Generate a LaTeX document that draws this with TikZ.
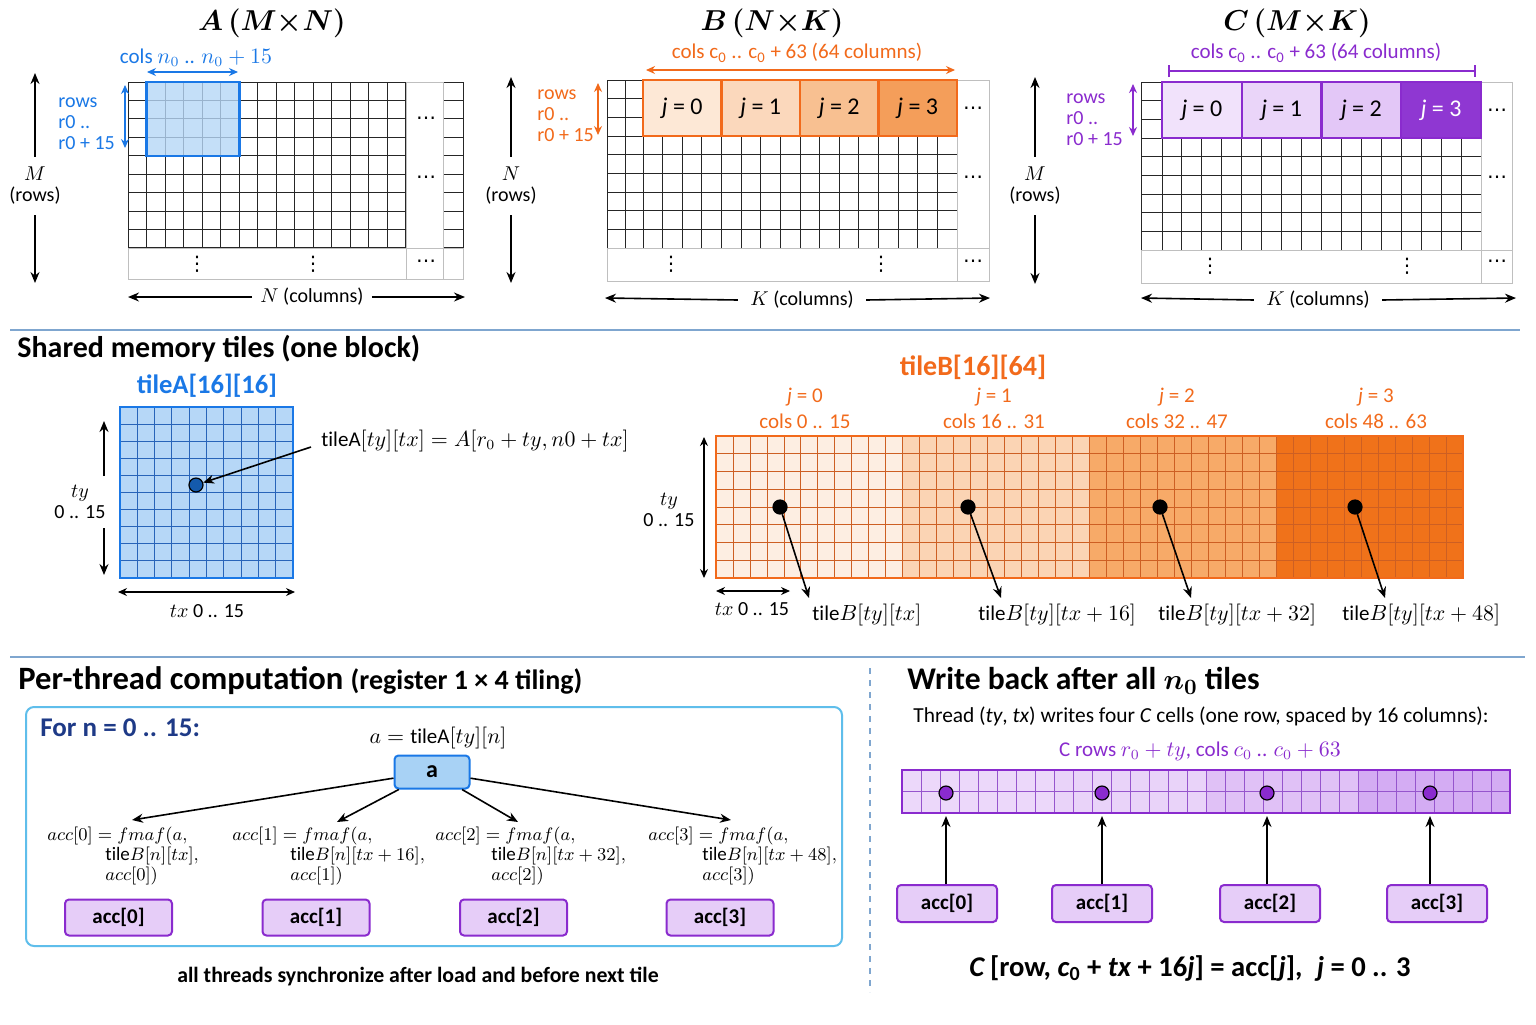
\documentclass[tikz,border=0pt]{standalone}
\usepackage{amsmath}
\usepackage{bm}
\usepackage{fontspec}
\setmainfont{Carlito}
\newfontfamily\symfont{DejaVu Sans}
\usetikzlibrary{arrows.meta,positioning}
\definecolor{ablue}{RGB}{26,120,230}
\definecolor{agrid}{RGB}{40,100,185}
\definecolor{tileAfill}{RGB}{182,215,247}
\definecolor{afill}{RGB}{168,210,245}
\definecolor{bor}{RGB}{242,106,27}
\definecolor{bgrid}{RGB}{205,95,35}
\definecolor{bfill0}{RGB}{253,232,214}
\definecolor{bfill1}{RGB}{251,216,188}
\definecolor{bfill2}{RGB}{248,192,145}
\definecolor{bfill3}{RGB}{244,158,90}
\definecolor{bsec0}{RGB}{253,238,226}
\definecolor{bsec1}{RGB}{251,212,180}
\definecolor{bsec2}{RGB}{247,170,104}
\definecolor{bsec3}{RGB}{240,114,26}
\definecolor{cpur}{RGB}{138,43,206}
\definecolor{cgrid}{RGB}{150,85,205}
\definecolor{cfill0}{RGB}{241,226,251}
\definecolor{cfill1}{RGB}{234,213,249}
\definecolor{cfill2}{RGB}{227,199,247}
\definecolor{cfill3}{RGB}{143,55,210}
\definecolor{wsec0}{RGB}{236,216,250}
\definecolor{wsec1}{RGB}{233,211,249}
\definecolor{wsec2}{RGB}{224,193,246}
\definecolor{wsec3}{RGB}{212,172,243}
\definecolor{accfill}{RGB}{230,205,248}
\definecolor{sepline}{RGB}{127,166,207}
\definecolor{boxblue}{RGB}{95,190,235}
\definecolor{navy}{RGB}{30,58,135}
\newcommand{\hdotz}{{\symfont ⋯}}
\newcommand{\vdotz}{{\symfont ⋮}}

\begin{document}
\begin{tikzpicture}[x=0.5pt,y=-0.5pt,
    every node/.style={inner sep=0pt},
    ttl/.style={font=\fontsize{15.5}{18}\selectfont},
    head/.style={anchor=west,font=\fontsize{15}{17}\selectfont\bfseries},
    lbl/.style={font=\fontsize{10}{10.5}\selectfont},
    clbl/.style={font=\fontsize{10.5}{12}\selectfont},
    mlbl/.style={font=\fontsize{10.5}{12}\selectfont},
    gridln/.style={line width=0.5pt,black!85},
    faint/.style={line width=0.5pt,black!25},
    dimarr/.style={{Stealth[length=4.5pt,width=4pt]}-{Stealth[length=4.5pt,width=4pt]},line width=0.6pt},
    arrow/.style={-{Stealth[length=5.5pt,width=4.5pt]},line width=0.8pt},
    btile/.style={rectangle,draw=bor,line width=1.2pt,minimum width=39.25pt,minimum height=28pt,font=\fontsize{12}{14}\selectfont},
    ctile/.style={rectangle,draw=cpur,line width=1.2pt,minimum width=39.9pt,minimum height=28pt,font=\fontsize{12}{14}\selectfont},
    accbox/.style={rectangle,rounded corners=2pt,draw=cpur,line width=1pt,fill=accfill,minimum height=18pt,font=\fontsize{10.5}{12}\selectfont\bfseries},
    dot/.style={circle,draw=black,line width=0.6pt,minimum size=7pt}]
\fill[white] (0,0) rectangle (1536,1024);
\useasboundingbox (0,0) rectangle (1536,1024);

% ---------------- matrix A ----------------
\node[ttl] (tA) at (272,23) {$\bm{A\,(M{\times}N)}$};
\foreach \i in {0,...,15}
  \draw[gridln] ({128+18.53*\i},82) -- ({128+18.53*\i},248);
\foreach \k in {0,...,9}
  \draw[gridln] (128,{82+18.44*\k}) -- (406,{82+18.44*\k}) (443,{82+18.44*\k}) -- (463,{82+18.44*\k});
\draw[gridln] (443,82) -- (443,248) (463,82) -- (463,248);
\draw[faint] (406,82) rectangle (443,279) (128,248) rectangle (463,279) (443,248) -- (443,279);
\fill[tileAfill,fill opacity=0.8] (146.5,82) rectangle (239.2,155.8);
\draw[ablue,line width=1.3pt] (146.5,82) rectangle (239.2,155.8);
\node (dA1) at (426,121) {\hdotz};
\node (dA2) at (426,180) {\hdotz};
\node (dA3) at (426,264) {\hdotz};
\node (vA1) at (197,264) {\vdotz};
\node (vA2) at (313,264) {\vdotz};
\node[clbl,text=ablue] (colsA) at (196,58) {cols $n_0$ .. $n_0+15$};
\coordinate (cA1) at (147,72); \coordinate (cA2) at (238,72);
\draw[dimarr,ablue] (cA1) -- (cA2);
\node[lbl,text=ablue,align=left,anchor=west] (rowsA) at (58,124) {rows\\r0 ..\\r0 + 15};
\coordinate (rA1) at (125,85); \coordinate (rA2) at (125,148);
\draw[dimarr,ablue] (rA1) -- (rA2);
\node[lbl,align=center,inner sep=5pt] (mA) at (35,186) {$M$\\(rows)};
\coordinate (mAt) at (35,73); \coordinate (mAb) at (35,283);
\draw[arrow] (mA.north) -- (mAt);
\draw[arrow] (mA.south) -- (mAb);
\node[lbl,inner xsep=4pt] (nA) at (312,297) {$N$ (columns)};
\coordinate (nAl) at (128,297); \coordinate (nAr) at (465,297);
\draw[arrow] (nA.west) -- (nAl);
\draw[arrow] (nA.east) -- (nAr);

% ---------------- matrix B ----------------
\node[ttl] (tB) at (772,23) {$\bm{B\,(N{\times}K)}$};
\foreach \k in {0,...,9}
  \draw[gridln] (607,{80+18.67*\k}) -- (643,{80+18.67*\k});
\foreach \k in {3,...,9}
  \draw[gridln] (643,{80+18.67*\k}) -- (957,{80+18.67*\k});
\draw[gridln] (607,80) -- (607,248) (625,80) -- (625,248);
\foreach \i in {0,...,16}
  \draw[gridln] ({643+19.625*\i},136) -- ({643+19.625*\i},248);
\draw[faint] (957,80) rectangle (989,281) (607,248) rectangle (989,281) (957,248) -- (957,281);
\node[btile,fill=bfill0] (Bj0) at (682.25,108) {\textit{j} = 0};
\node[btile,fill=bfill1] (Bj1) at (760.75,108) {\textit{j} = 1};
\node[btile,fill=bfill2] (Bj2) at (839.25,108) {\textit{j} = 2};
\node[btile,fill=bfill3] (Bj3) at (917.75,108) {\textit{j} = 3};
\node (dB1) at (973,111) {\hdotz};
\node (dB2) at (973,180) {\hdotz};
\node (dB3) at (973,264) {\hdotz};
\node (vB1) at (671,264) {\vdotz};
\node (vB2) at (881,264) {\vdotz};
\node[clbl,text=bor] (colsB) at (797,53) {cols c\textsubscript{0} .. c\textsubscript{0} + 63 (64 columns)};
\coordinate (cB1) at (646,70); \coordinate (cB2) at (955,70);
\draw[dimarr,bor] (cB1) -- (cB2);
\node[lbl,text=bor,align=left,anchor=west] (rowsB) at (537,116) {rows\\r0 ..\\r0 + 15};
\coordinate (rB1) at (598,83); \coordinate (rB2) at (598,135);
\draw[dimarr,bor] (rB1) -- (rB2);
\node[lbl,align=center,inner sep=5pt] (nB) at (511,186) {$N$\\(rows)};
\coordinate (nBt) at (511,77); \coordinate (nBb) at (511,283);
\draw[arrow] (nB.north) -- (nBt);
\draw[arrow] (nB.south) -- (nBb);
\node[lbl,inner xsep=6pt] (kB) at (802,300) {$K$ (columns)};
\coordinate (kBl) at (605,298); \coordinate (kBr) at (990,298);
\draw[arrow] (kB.west) -- (kBl);
\draw[arrow] (kB.east) -- (kBr);

% ---------------- matrix C ----------------
\node[ttl] (tC) at (1297,23) {$\bm{C\,(M{\times}K)}$};
\foreach \k in {0,...,9}
  \draw[gridln] (1141,{82+18.67*\k}) -- (1162,{82+18.67*\k});
\foreach \k in {3,...,9}
  \draw[gridln] (1162,{82+18.67*\k}) -- (1481,{82+18.67*\k});
\draw[gridln] (1141,82) -- (1141,250);
\foreach \i in {0,...,16}
  \draw[gridln] ({1162+19.94*\i},138) -- ({1162+19.94*\i},250);
\draw[faint] (1481,82) rectangle (1512,283) (1141,250) rectangle (1512,283) (1481,250) -- (1481,283);
\node[ctile,fill=cfill0] (Cj0) at (1201.9,110) {\textit{j} = 0};
\node[ctile,fill=cfill1] (Cj1) at (1281.6,110) {\textit{j} = 1};
\node[ctile,fill=cfill2] (Cj2) at (1361.4,110) {\textit{j} = 2};
\node[ctile,fill=cfill3,text=white] (Cj3) at (1441.1,110) {\textit{j} = 3};
\node (dC1) at (1497,113) {\hdotz};
\node (dC2) at (1497,180) {\hdotz};
\node (dC3) at (1497,264) {\hdotz};
\node (vC1) at (1210,266) {\vdotz};
\node (vC2) at (1407,266) {\vdotz};
\node[clbl,text=cpur] (colsC) at (1316,53) {cols c\textsubscript{0} .. c\textsubscript{0} + 63 (64 columns)};
\coordinate (cC1) at (1168,71); \coordinate (cC2) at (1476,71);
\draw[{Bar[width=6pt]}-{Bar[width=6pt]},cpur,line width=1pt] (cC1) -- (cC2);
\node[lbl,text=cpur,align=left,anchor=west] (rowsC) at (1066,120) {rows\\r0 ..\\r0 + 15};
\coordinate (rC1) at (1133,84); \coordinate (rC2) at (1133,136);
\draw[dimarr,cpur] (rC1) -- (rC2);
\node[lbl,align=center,inner sep=5pt] (mC) at (1035,186) {$M$\\(rows)};
\coordinate (mCt) at (1035,77); \coordinate (mCb) at (1035,284);
\draw[arrow] (mC.north) -- (mCt);
\draw[arrow] (mC.south) -- (mCb);
\node[lbl,inner xsep=6pt] (kC) at (1318,300) {$K$ (columns)};
\coordinate (kCl) at (1141,298); \coordinate (kCr) at (1516,298);
\draw[arrow] (kC.west) -- (kCl);
\draw[arrow] (kC.east) -- (kCr);

\draw[sepline,line width=0.8pt] (10,330) -- (1520,330);

% ---------------- shared memory tiles ----------------
\node[head] (shh) at (17,349) {Shared memory tiles (one block)};
\node[font=\fontsize{13.3}{15}\selectfont\bfseries,text=ablue] (tAt) at (207,386) {tileA[16][16]};
\fill[tileAfill] (120,407) rectangle (293,578);
\foreach \i in {0,...,10}
  \draw[agrid,line width=0.5pt] ({120+17.3*\i},407) -- ({120+17.3*\i},578);
\foreach \k in {0,...,10}
  \draw[agrid,line width=0.5pt] (120,{407+17.1*\k}) -- (293,{407+17.1*\k});
\draw[ablue,line width=0.8pt] (120,407) rectangle (293,578);
\node[dot,fill=ablue!75!black] (dotA) at (196,485) {};
\node[mlbl,anchor=west] (eqA) at (321,441) {$\mathrm{tileA}[ty][tx] = A[r_0 + ty, n0 + tx]$};
\draw[arrow] ([xshift=-5pt,yshift=-3pt]eqA.west) -- (dotA);
\node[lbl,align=center] (tyA) at (80,502) {$ty$\\0 .. 15};
\coordinate (tyA1) at (104,476); \coordinate (tyA2) at (104,421);
\coordinate (tyA3) at (104,528); \coordinate (tyA4) at (104,575);
\draw[arrow] (tyA1) -- (tyA2);
\draw[arrow] (tyA3) -- (tyA4);
\coordinate (txA1) at (118,592); \coordinate (txA2) at (295,592);
\draw[dimarr] (txA1) -- (txA2);
\node[lbl] (txA) at (207,611) {$tx$ 0 .. 15};

\node[font=\fontsize{14}{16}\selectfont\bfseries,text=bor] (tBt) at (973,367) {tileB[16][64]};
\node[clbl,text=bor,align=center] (jB0) at (805,408) {\textit{j} = 0\\[1pt]cols 0 .. 15};
\node[clbl,text=bor,align=center] (jB1) at (994,408) {\textit{j} = 1\\[1pt]cols 16 .. 31};
\node[clbl,text=bor,align=center] (jB2) at (1177,408) {\textit{j} = 2\\[1pt]cols 32 .. 47};
\node[clbl,text=bor,align=center] (jB3) at (1376,408) {\textit{j} = 3\\[1pt]cols 48 .. 63};
\fill[bsec0] (716,436) rectangle (902.7,578);
\fill[bsec1] (902.7,436) rectangle (1089.5,578);
\fill[bsec2] (1089.5,436) rectangle (1276.2,578);
\fill[bsec3] (1276.2,436) rectangle (1463,578);
\foreach \i in {0,...,44}
  \draw[bgrid,line width=0.4pt] ({716+16.977*\i},436) -- ({716+16.977*\i},578);
\foreach \k in {0,...,8}
  \draw[bgrid,line width=0.4pt] (716,{436+17.75*\k}) -- (1463,{436+17.75*\k});
\draw[bor,line width=0.8pt] (716,436) rectangle (1463,578);
\node[dot,fill=black] (dB0) at (780,507) {};
\node[dot,fill=black] (dB1) at (968,507) {};
\node[dot,fill=black] (dB2) at (1160,507) {};
\node[dot,fill=black] (dB3) at (1355,507) {};
\node[mlbl,anchor=west] (lB0) at (812,615) {$\mathrm{tile}B[ty][tx]$};
\node[mlbl,anchor=west] (lB1) at (978,615) {$\mathrm{tile}B[ty][tx+16]$};
\node[mlbl,anchor=west] (lB2) at (1158,615) {$\mathrm{tile}B[ty][tx+32]$};
\node[mlbl,anchor=west] (lB3) at (1342,615) {$\mathrm{tile}B[ty][tx+48]$};
\coordinate (eB0) at (809,598); \coordinate (eB1) at (1001,598);
\coordinate (eB2) at (1191,598); \coordinate (eB3) at (1385,598);
\draw[arrow] (dB0) -- (eB0);
\draw[arrow] (dB1) -- (eB1);
\draw[arrow] (dB2) -- (eB2);
\draw[arrow] (dB3) -- (eB3);
\node[lbl,align=center] (tyB) at (669,510) {$ty$\\0 .. 15};
\coordinate (tyB1) at (704,437); \coordinate (tyB2) at (704,578);
\draw[dimarr] (tyB1) -- (tyB2);
\coordinate (txB1) at (716,591); \coordinate (txB2) at (790,591);
\draw[dimarr] (txB1) -- (txB2);
\node[lbl] (txB) at (752,609) {$tx$ 0 .. 15};

\draw[sepline,line width=0.8pt] (10,657) -- (1525,657);
\draw[sepline,line width=0.8pt,dashed] (870,668) -- (870,992);

% ---------------- per-thread computation ----------------
\node[anchor=west,font=\bfseries] (pth) at (18,681) {\fontsize{16.3}{18}\selectfont Per-thread computation \fontsize{14}{16}\selectfont(register 1 × 4 tiling)};
\node[draw=boxblue,rounded corners=4pt,line width=1pt,minimum width=408pt,minimum height=119.5pt] (loopbox) at (434,826.5) {};
\node[anchor=west,text=navy,font=\fontsize{13.5}{15}\selectfont\bfseries] (forn) at (40,728) {For n = 0 .. 15:};
\node[mlbl] (aeq) at (438,738) {$a = \mathrm{tileA}[ty][n]$};
\node[draw=ablue,fill=afill,rounded corners=2pt,line width=1pt,minimum width=37.5pt,minimum height=16.5pt,font=\fontsize{12}{14}\selectfont\bfseries] (aval) at (432,772) {a};
\node[font=\fontsize{9.5}{10}\selectfont,anchor=north west,align=left] (f0) at (47,827)
  {$acc[0] = fmaf(a,$\\\hspace*{29pt}$\mathrm{tile}B[n][tx],$\\\hspace*{29pt}$acc[0])$};
\node[font=\fontsize{9.5}{10}\selectfont,anchor=north west,align=left] (f1) at (232,827)
  {$acc[1] = fmaf(a,$\\\hspace*{29pt}$\mathrm{tile}B[n][tx+16],$\\\hspace*{29pt}$acc[1])$};
\node[font=\fontsize{9.5}{10}\selectfont,anchor=north west,align=left] (f2) at (435,827)
  {$acc[2] = fmaf(a,$\\\hspace*{28pt}$\mathrm{tile}B[n][tx+32],$\\\hspace*{28pt}$acc[2])$};
\node[font=\fontsize{9.5}{10}\selectfont,anchor=north west,align=left] (f3) at (648,827)
  {$acc[3] = fmaf(a,$\\\hspace*{27pt}$\mathrm{tile}B[n][tx+48],$\\\hspace*{27pt}$acc[3])$};
\coordinate (t0) at (132,820); \coordinate (t1) at (337,822);
\coordinate (t2) at (518,822); \coordinate (t3) at (731,820);
\draw[arrow] (aval) -- (t0);
\draw[arrow] (aval) -- (t1);
\draw[arrow] (aval) -- (t2);
\draw[arrow] (aval) -- (t3);
\node[accbox,minimum width=53.5pt] (acc0) at (118.5,917.5) {acc[0]};
\node[accbox,minimum width=53.5pt] (acc1) at (316,917.5) {acc[1]};
\node[accbox,minimum width=53.5pt] (acc2) at (513.5,917.5) {acc[2]};
\node[accbox,minimum width=53.5pt] (acc3) at (720,917.5) {acc[3]};
\node[font=\fontsize{10.9}{12}\selectfont\bfseries] (sync) at (418,977) {all threads synchronize after load and before next tile};

% ---------------- write back ----------------
\node[anchor=west,font=\fontsize{15.8}{18}\selectfont\bfseries] (wbh) at (907,681) {Write back after all $\bm{n_0}$ tiles};
\node[font=\fontsize{10.7}{12}\selectfont,anchor=west] (thr) at (913,716) {Thread (\textit{ty}, \textit{tx}) writes four \textit{C} cells (one row, spaced by 16 columns):};
\node[clbl,text=cpur] (crow) at (1200,751) {C rows $r_0 + ty$, cols $c_0$ .. $c_0 + 63$};
\fill[wsec0] (902,770) rectangle (1054,813);
\fill[wsec1] (1054,770) rectangle (1206,813);
\fill[wsec2] (1206,770) rectangle (1358,813);
\fill[wsec3] (1358,770) rectangle (1510,813);
\foreach \i in {0,...,32}
  \draw[cgrid,line width=0.4pt] ({902+19*\i},770) -- ({902+19*\i},813);
\draw[cgrid,line width=0.4pt] (902,791.5) -- (1510,791.5);
\draw[cpur,line width=1.3pt] (902,770) rectangle (1510,813);
\node[dot,fill=cpur] (wd0) at (946,793) {};
\node[dot,fill=cpur] (wd1) at (1102,793) {};
\node[dot,fill=cpur] (wd2) at (1267,793) {};
\node[dot,fill=cpur] (wd3) at (1430,793) {};
\node[accbox,minimum width=50pt,minimum height=18.5pt] (wacc0) at (947,903.5) {acc[0]};
\node[accbox,minimum width=50pt,minimum height=18.5pt] (wacc1) at (1102,903.5) {acc[1]};
\node[accbox,minimum width=50pt,minimum height=18.5pt] (wacc2) at (1270,903.5) {acc[2]};
\node[accbox,minimum width=50pt,minimum height=18.5pt] (wacc3) at (1437,903.5) {acc[3]};
\coordinate (we0) at (946,816); \coordinate (we1) at (1102,816);
\coordinate (we2) at (1267,816); \coordinate (we3) at (1430,816);
\draw[arrow] (wd0 |- wacc0.north) -- (we0);
\draw[arrow] (wd1 |- wacc1.north) -- (we1);
\draw[arrow] (wd2 |- wacc2.north) -- (we2);
\draw[arrow] (wd3 |- wacc3.north) -- (we3);
\node[font=\fontsize{14.3}{16}\selectfont\bfseries] (wform) at (1190,968)
  {\textit{C}\,[row, \textit{c}\textsubscript{0} + \textit{tx} + 16\textit{j}] = acc[\textit{j}],\enspace \textit{j} = 0 .. 3};
\end{tikzpicture}
\end{document}
